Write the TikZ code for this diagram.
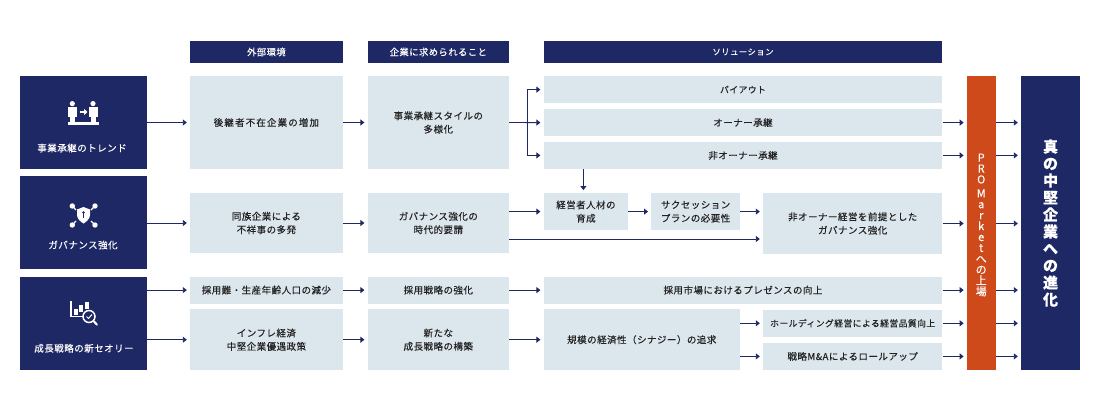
\documentclass[tikz,border=0pt]{standalone}
\usepackage{fontspec}
\usepackage{xcolor}
\setmainfont{Noto Sans CJK JP}[LetterSpace=5,FakeBold=0.15]
\usetikzlibrary{arrows.meta,positioning,calc}
\definecolor{mNavy}{HTML}{1E2864}
\definecolor{mMist}{HTML}{DCE6ED}
\definecolor{mRust}{HTML}{CE4A1B}
\definecolor{mInk}{HTML}{222222}
\tikzset{
    flow/.style={-{Triangle[length=4pt,width=6pt]}, line width=0.9pt, mNavy, shorten >=3pt},
    softbox/.style={fill=mMist, text=mInk, inner sep=0pt, align=center,
        font=\fontsize{9.5}{13.4}\selectfont},
    headbox/.style={fill=mNavy, text=white, inner sep=0pt, align=center,
        minimum height=22.5pt, font=\fontsize{9.3}{12}\selectfont},
    catbox/.style={fill=mNavy, minimum width=127pt, minimum height=93pt, inner sep=0pt},
    catlabel/.style={text=white, inner sep=0pt, font=\fontsize{9.5}{12}\selectfont},
    colA/.style={minimum width=152.8pt},
    colB/.style={minimum width=141.4pt},
    colC/.style={minimum width=398.8pt},
    tallrow/.style={minimum height=93pt},
    midrow/.style={minimum height=60.6pt},
    lowrow/.style={minimum height=27.2pt},
    icon/.style={fill=white, draw=none}
}
\begin{document}
\begin{tikzpicture}[x=1pt, y=-1pt]
    \useasboundingbox (0,0) rectangle (1100,413);

    % column heads
    \node[headbox, colA] (headA) at (266.4,52) {外部環境};
    \node[headbox, colB] (headB) at (438.3,52) {企業に求められること};
    \node[headbox, colC, font=\fontsize{8.4}{12}\selectfont] (headC) at (743,52) {ソリューション};

    % left categories
    \node[catbox] (trend) at (83.5,122.5) {};
    \node[catbox] (gov) at (83.5,222.5) {};
    \node[catbox] (growth) at (83.5,323) {};
    \node[catlabel] (trendtxt) at (82,148) {事業承継のトレンド};
    \node[catlabel] (govtxt) at (83,245) {ガバナンス強化};
    \node[catlabel] (growthtxt) at (84,348.3) {成長戦略の新セオリー};

    % icon: handing over
    \fill[icon] (68,121.7) rectangle (99,124.7);
    \foreach \px in {72.3,93} {
        \fill[icon] (\px,103.6) circle (2.6);
        \fill[icon] (\px-4.5,107) rectangle (\px+4.5,116.5);
        \fill[icon] (\px-2.5,116) rectangle (\px+2.5,122);
    }
    \draw[white, line width=1.6pt, -{Triangle[length=3.5pt,width=6pt]}] (79.5,112) -- (87.5,112);

    % icon: shield
    \draw[white, line width=1.2pt] (72.3,206) -- (76,210) (95,206) -- (91,210) (72.3,225) -- (76,221) (95,225) -- (91,221);
    \foreach \px/\py in {72.3/206,95/206,72.3/225,95/225} \fill[icon] (\px,\py) circle (2.7);
    \fill[icon] (83.5,207) -- (90,209.5) -- (90,215) .. controls (90,219) and (86,222) .. (83.5,223.5) .. controls (81,222) and (77,219) .. (77,215) -- (77,209.5) -- cycle;
    \fill[mNavy] (83.5,212.5) circle (1.4);
    \draw[mNavy, line width=0.9pt] (83.5,213) -- (83.5,218);

    % icon: chart and lens
    \draw[white, line width=1.2pt] (71,301) -- (71,316.5) -- (85,316.5);
    \fill[icon] (74,309) rectangle (77.5,315);
    \fill[icon] (79,305) rectangle (82.5,312);
    \fill[icon] (84.5,301.5) rectangle (88.5,309);
    \draw[white, line width=1.5pt, fill=mNavy] (89,316.5) circle (6);
    \draw[white, line width=2pt, line cap=round] (93.5,321) -- (97,324.7);
    \draw[white, line width=1pt] (86.5,316.5) -- (88.5,318.5) -- (92,314.5);

    % first row
    \node[softbox, colA, tallrow] (absent) at (266.4,122.5) {\addfontfeature{LetterSpace=12}後継者不在企業の増加};
    \node[softbox, colB, tallrow] (style) at (438.3,122.5) {事業承継スタイルの\\多様化};
    \node[softbox, colC, lowrow, font=\fontsize{8.8}{12}\selectfont] (buyout) at (743,89.6) {バイアウト};
    \node[softbox, colC, lowrow] (owner) at (743,122.6) {オーナー承継};
    \node[softbox, colC, lowrow] (nonowner) at (743,155.4) {非オーナー承継};

    % second row
    \node[softbox, colA, midrow] (scandal) at (266.4,223) {同族企業による\\不祥事の多発};
    \node[softbox, colB, midrow] (govneed) at (438.3,223) {ガバナンス強化の\\時代的要請};
    \node[softbox, minimum width=84.6pt, minimum height=36.7pt] (talent) at (585.9,211.6) {経営者人材の\\育成};
    \node[softbox, minimum width=88.8pt, minimum height=36.7pt] (plan) at (695.6,211.6) {サクセッション\\プランの必要性};
    \node[softbox, minimum width=179.4pt, midrow] (govbase) at (852.7,223.5) {非オーナー経営を前提とした\\ガバナンス強化};

    % third row
    \node[softbox, colA, lowrow] (hiring) at (266.4,290.1) {採用難・生産年齢人口の減少};
    \node[softbox, colB, lowrow] (hirestr) at (438.3,290.1) {採用戦略の強化};
    \node[softbox, colC, lowrow] (market) at (743,290.1) {採用市場におけるプレゼンスの向上};

    % fourth row
    \node[softbox, colA, midrow] (inflation) at (266.4,339.7) {インフレ経済\\中堅企業優遇政策};
    \node[softbox, colB, midrow] (newplan) at (438.3,339.7) {新たな\\成長戦略の構築};
    \node[softbox, minimum width=196.4pt, midrow] (scale) at (641.8,339.7) {規模の経済性（シナジー）の追求};
    \node[softbox, minimum width=179.4pt, lowrow, font=\fontsize{8.8}{12}\selectfont] (holding) at (852.7,323.3) {ホールディング経営による経営品質向上};
    \node[softbox, minimum width=179.4pt, lowrow] (rollup) at (852.7,356.4) {戦略M\&Aによるロールアップ};

    % right columns
    \node[fill=mRust, minimum width=28.7pt, minimum height=294pt, inner sep=0pt] (pro) at (981.2,223) {};
    \node[text=white, inner sep=0pt, align=center, font=\fontsize{11}{10.9}\selectfont] (protxt) at (981.2,225)
        {P\\R\\O\\[3pt]M\\a\\r\\k\\e\\t\\へ\\の\\上\\場};
    \node[fill=mNavy, text=white, minimum width=59pt, minimum height=294pt, inner sep=0pt, align=center,
        font=\fontsize{15}{17}\selectfont\bfseries] (final) at (1050.5,223)
        {真\\の\\中\\堅\\企\\業\\へ\\の\\進\\化};

    % connectors
    \coordinate (fork) at (527,122.5);
    \draw[flow] (trend.east |- absent.west) -- (absent.west);
    \draw[flow] (absent.east) -- (style.west);
    \draw[flow] (style.east) -- (owner.west);
    \draw[flow] (fork) |- (buyout.west);
    \draw[flow] (fork) |- (nonowner.west);
    \draw[flow] ([xshift=-2.5pt]talent.north |- nonowner.south) -- ([xshift=-2.5pt]talent.north);

    \draw[flow] (gov.east |- scandal.west) -- (scandal.west);
    \draw[flow] (scandal.east) -- (govneed.west);
    \draw[flow] (govneed.east |- talent.west) -- (talent.west);
    \draw[flow] (talent.east) -- (plan.west);
    \draw[flow] (plan.east) -- (plan.east -| govbase.west);
    \draw[flow] ([yshift=-16pt]govneed.east) -- ([yshift=-15.5pt]govbase.west);

    \draw[flow] (growth.east |- hiring.west) -- (hiring.west);
    \draw[flow] (hiring.east) -- (hirestr.west);
    \draw[flow] (hirestr.east) -- (market.west);
    \draw[flow] (growth.east |- inflation.west) -- (inflation.west);
    \draw[flow] (inflation.east) -- (newplan.west);
    \draw[flow] (newplan.east) -- (scale.west);
    \draw[flow] (scale.east |- holding.west) -- (holding.west);
    \draw[flow] (scale.east |- rollup.west) -- (rollup.west);

    \foreach \src in {owner,nonowner,govbase,market,holding,rollup} {
        \draw[flow] (\src.east) -- (\src.east -| pro.west);
        \draw[flow] (\src.east -| pro.east) -- (\src.east -| final.west);
    }
\end{tikzpicture}
\end{document}
